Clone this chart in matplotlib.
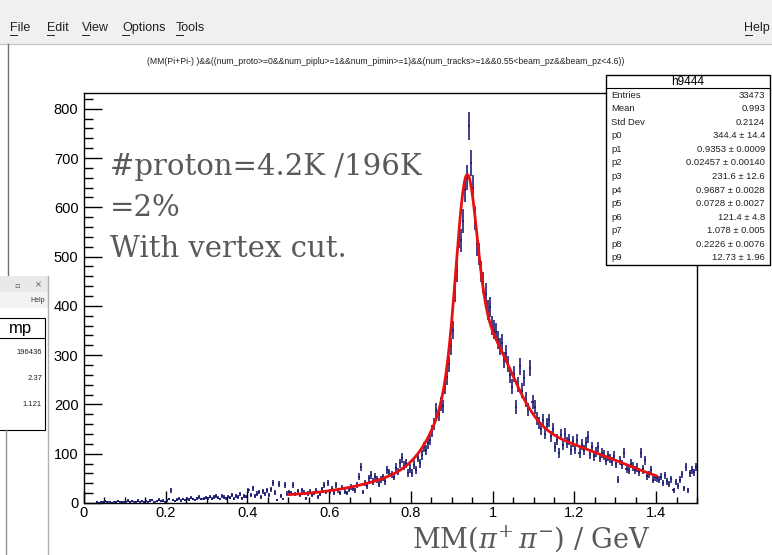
import numpy as np
import matplotlib
matplotlib.use("Agg")
import matplotlib.pyplot as plt
from matplotlib.patches import Rectangle
from matplotlib.lines import Line2D

# ---- histogram: MM(pi+ pi-) in 300 bins of 5 MeV from 0 to 1.5 GeV ----
x_min, x_max, n_bins = 0.0, 1.5, 300
counts = [
    0, 0, 0, 0, 0, 0, 2, 1, 3, 2,
    4, 2, 3, 1, 3, 2, 4, 3, 2, 3,
    3, 5, 2, 4, 3, 2, 5, 3, 4, 2,
    4, 3, 5, 6, 3, 4, 7, 4, 5, 3,
    5, 8, 26, 6, 4, 7, 9, 5, 8, 6,
    9, 7, 11, 8, 6, 10, 12, 8, 9, 11,
    10, 13, 9, 12, 15, 11, 8, 14, 12, 10,
    13, 11, 16, 9, 14, 12, 18, 10, 15, 13,
    26, 17, 30, 14, 19, 22, 12, 24, 18, 26,
    16, 28, 40, 21, 6, 38, 14, 8, 36, 19,
    22, 20, 37, 18, 24, 16, 26, 21, 10, 19,
    23, 17, 20, 25, 12, 19, 28, 37, 22, 40,
    24, 29, 21, 37, 26, 20, 31, 23, 20, 28,
    33, 30, 26, 36, 53, 73, 22, 41, 35, 50,
    57, 44, 53, 48, 39, 47, 52, 44, 67, 62,
    58, 53, 72, 64, 81, 91, 76, 81, 61, 70,
    61, 78, 67, 92, 81, 98, 114, 108, 121, 128,
    146, 160, 189, 180, 201, 196, 236, 255, 282, 318,
    351, 428, 470, 540, 533, 572, 636, 660, 765, 690,
    640, 578, 525, 505, 470, 448, 425, 392, 398, 360,
    352, 347, 330, 318, 325, 290, 304, 282, 260, 236,
    262, 195, 240, 277, 228, 253, 210, 190, 274, 205,
    195, 172, 162, 150, 168, 141, 160, 168, 135, 150,
    114, 128, 101, 139, 118, 141, 122, 128, 108, 125,
    110, 128, 101, 118, 108, 122, 134, 100, 114, 96,
    104, 114, 92, 101, 98, 86, 95, 90, 84, 96,
    80, 47, 86, 78, 101, 70, 67, 80, 74, 66,
    72, 63, 101, 68, 87, 55, 58, 66, 47, 52,
    50, 47, 53, 40, 56, 44, 38, 48, 26, 42,
    35, 47, 58, 30, 73, 26, 60, 66, 62, 73,
]

# ---- fit: three gaussians + constant, fitted on [0.5, 1.4] ----
fit_range = (0.5, 1.4)
fit_params = [344.4, 0.9353, 0.02457, 231.6, 0.9687, 0.0728,
              121.4, 1.078, 0.2226, 12.73]
fit_errors = ["14.4", "0.0009", "0.00140", "12.6", "0.0028", "0.0027",
              "4.8", "0.005", "0.0076", "1.96"]
fit_values_txt = ["344.4", "0.9353", "0.02457", "231.6", "0.9687", "0.0728",
                  "121.4", "1.078", "0.2226", "12.73"]

hist_name = "h9444"
stat_names = ["Entries", "Mean", "Std Dev"]
stat_values = ["33473", "0.993", "0.2124"]

title_text = ("(MM(Pi+Pi-) )&&((num_proto>=0&&num_piplu>=1&&num_pimin>=1)"
              "&&(num_tracks>=1&&0.55<beam_pz&&beam_pz<4.6))")
note_lines = ["#proton=4.2K /196K", "=2%", "With vertex cut."]
menu_items = ["File", "Edit", "View", "Options", "Tools"]

# side window fragment
side_header = "mp"
side_values = ["196436", "2.37", "1.121"]

W, H = 772, 555
fig = plt.figure(figsize=(W / 100, H / 100), dpi=100)
fig.patch.set_facecolor("white")
SANS = "Liberation Sans"


def fx(px):
    return px / W


def fy(py):
    return 1 - py / H


def frect(x0, y0, x1, y1, **kw):
    fig.patches.append(Rectangle((fx(x0), fy(y1)), fx(x1) - fx(x0), fy(y0) - fy(y1),
                                 transform=fig.transFigure, **kw))


def fline(xs, ys, **kw):
    fig.lines.append(Line2D([fx(v) for v in xs], [fy(v) for v in ys],
                            transform=fig.transFigure, **kw))


def ftext(px, py, s, **kw):
    fig.text(fx(px), fy(py), s, **kw)


# ---- window chrome: menu bar ----
frect(0, 0, W, 44, facecolor="#f0f0f0", edgecolor="none", zorder=0)
fline([0, W], [44, 44], color="#c8c8c8", lw=1)
menu_x = [10, 47, 82, 122, 176]
for name, mx in zip(menu_items, menu_x):
    ftext(mx, 28, name, fontsize=9, family=SANS, color="#202020", va="center")
    # mnemonic underline under the first letter
    fline([mx, mx + 6.5], [34.5, 34.5], color="#202020", lw=0.7)
ftext(770, 28, "Help", fontsize=9, family=SANS, color="#202020", va="center", ha="right")
fline([745, 752], [34.5, 34.5], color="#202020", lw=0.7)
fline([8, 8], [44, 276], color="#707070", lw=1)

# ---- title ----
ftext(386, 62, title_text, fontsize=6.2, family=SANS, color="#202020",
      ha="center", va="center")

# ---- main axes ----
ax = fig.add_axes([fx(84), fy(503), fx(697) - fx(84), fy(93) - fy(503)])
edges = np.linspace(x_min, x_max, n_bins + 1)
centers = 0.5 * (edges[:-1] + edges[1:])
bw = edges[1] - edges[0]
y = np.asarray(counts, dtype=float)
keep = y > 0
ax.errorbar(centers[keep], y[keep], xerr=bw / 2, yerr=np.sqrt(y[keep]),
            fmt="none", ecolor="#16166e", elinewidth=1.15, capsize=0, zorder=2)


def model(x, p):
    g = lambda a, m, s: a * np.exp(-0.5 * ((x - m) / s) ** 2)
    return g(*p[0:3]) + g(*p[3:6]) + g(*p[6:9]) + p[9]


xf = np.linspace(fit_range[0], fit_range[1], 600)
ax.plot(xf, model(xf, fit_params), color="#e81010", lw=2.0, zorder=3)

ax.set_xlim(x_min, x_max)
ax.set_ylim(0, 832)
ax.set_xticks(np.arange(0, 1.41, 0.2))
ax.set_xticklabels(["0", "0.2", "0.4", "0.6", "0.8", "1", "1.2", "1.4"])
ax.set_xticks(np.arange(0, 1.501, 0.05), minor=True)
ax.set_yticks(np.arange(0, 801, 100))
ax.set_yticks(np.arange(0, 831, 20), minor=True)
ax.tick_params(axis="both", which="both", direction="in", top=False, right=False,
               colors="black", labelsize=10.5, width=1)
ax.tick_params(axis="y", which="major", length=13, pad=4)
ax.tick_params(axis="y", which="minor", length=6.5)
ax.tick_params(axis="x", which="major", length=9, pad=2)
ax.tick_params(axis="x", which="minor", length=4.5)
for lab in ax.get_xticklabels() + ax.get_yticklabels():
    lab.set_family(SANS)
for sp in ax.spines.values():
    sp.set_linewidth(1.0)

# ---- annotation text ----
for i, line in enumerate(note_lines):
    ftext(110, 175 + 41 * i, line, fontsize=21, family="DejaVu Serif",
          color="#595959", va="baseline", zorder=5)

ftext(412, 548, r"MM($\pi^{+}\,\pi^{-}$) / GeV", fontsize=19.5, family="DejaVu Serif",
      color="#595959", va="baseline", math_fontfamily="dejavuserif", zorder=5)

# ---- stats box ----
bx0, by0, bx1, by1 = 606, 75, 770, 265
frect(bx0, by0, bx1, by1, facecolor="white", edgecolor="black", lw=1, zorder=6)
fline([bx0, bx1], [88, 88], color="black", lw=0.8, zorder=7)
ftext((bx0 + bx1) / 2, 81.5, hist_name, fontsize=8.5, family=SANS, ha="center",
      va="center", zorder=7)
rows = list(zip(stat_names, stat_values))
rows += [(f"p{k}", f"{v} \u00b1 {e}") for k, (v, e) in
         enumerate(zip(fit_values_txt, fit_errors))]
step = (258 - 95) / (len(rows) - 1)
for k, (name, val) in enumerate(rows):
    yy = 95 + step * k
    ftext(bx0 + 5, yy, name, fontsize=6.8, family=SANS, va="center", color="#202020", zorder=7)
    ftext(bx1 - 5, yy, val, fontsize=6.8, family=SANS, va="center", ha="right",
          color="#202020", zorder=7)

# ---- fragment of a second window on the left ----
frect(0, 276, 48, H, facecolor="white", edgecolor="none", zorder=6)
frect(0, 276, 48, 292, facecolor="#e9e9e9", edgecolor="none", zorder=7)
frect(0, 292, 48, 308, facecolor="#f2f2f2", edgecolor="none", zorder=7)
fline([48, 48], [276, H], color="#b0b0b0", lw=1, zorder=8)
ftext(17, 285, "\u25ab", fontsize=6, family="DejaVu Sans", color="#555555",
      ha="center", va="center", zorder=8)
ftext(38, 285, "\u00d7", fontsize=6, family="DejaVu Sans", color="#555555",
      ha="center", va="center", zorder=8)
ftext(45, 300, "Help", fontsize=5, family=SANS, color="#333333", ha="right",
      va="center", zorder=8)
frect(-2, 318, 45, 430, facecolor="white", edgecolor="black", lw=0.8, zorder=8)
fline([-2, 45], [338, 338], color="black", lw=0.8, zorder=9)
ftext(20, 328, side_header, fontsize=12, family=SANS, ha="center", va="center", zorder=9)
for k, v in enumerate(side_values):
    ftext(42, 352 + 26.5 * k, v, fontsize=5.5, family=SANS, ha="right", va="center",
          color="#202020", zorder=9)
fline([6, 6], [430, H], color="#909090", lw=1, zorder=9)

fig.savefig("out.png", dpi=100, facecolor="white")
